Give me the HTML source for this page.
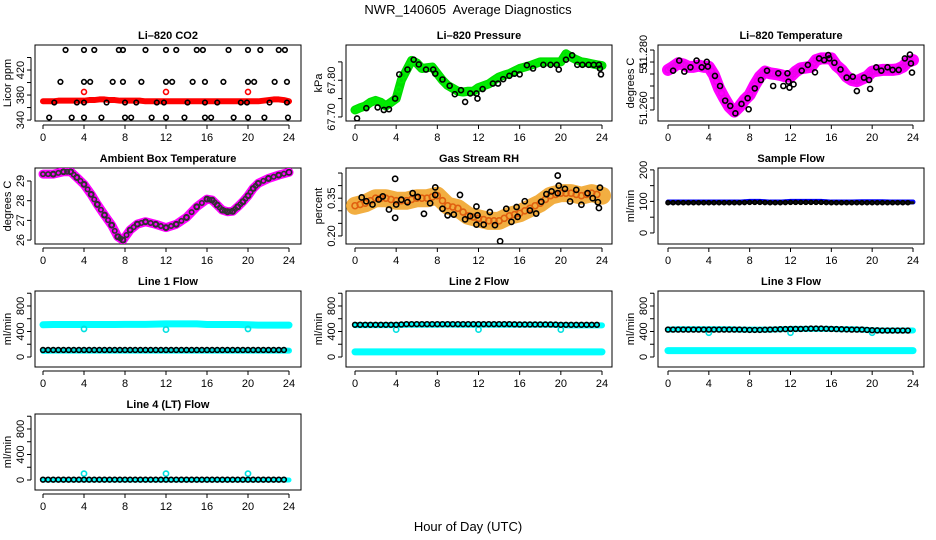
<!DOCTYPE html>
<html><head><meta charset="utf-8"><style>
html,body{margin:0;padding:0;background:#fff;}
svg{display:block;font-family:"Liberation Sans",sans-serif;}
</style></head><body>
<svg id="c" width="936" height="540" viewBox="0 0 936 540" xmlns="http://www.w3.org/2000/svg">
<text x="468" y="14" text-anchor="middle" font-size="13">NWR_140605&#160; Average Diagnostics</text>
<text x="468" y="531" text-anchor="middle" font-size="13">Hour of Day (UTC)</text>
</svg>
<script>
// ---- data ----
const xTicks=[0,4,8,12,16,20,24];
const halfHours=[0,0.5,1,1.5,2,2.5,3,3.5,4,4.5,5,5.5,6,6.5,7,7.5,8,8.5,9,9.5,10,10.5,11,11.5,12,12.5,13,13.5,14,14.5,15,15.5,16,16.5,17,17.5,18,18.5,19,19.5,20,20.5,21,21.5,22,22.5,23,23.5,24];
const hours=[0,1,2,3,4,5,6,7,8,9,10,11,12,13,14,15,16,17,18,19,20,21,22,23,24];
const spikeHours=[4,12,20];
// CO2
const co2Red=[370,370,370,371,371,371,371,371,371,372,372,373,373,372,372,371,371,371,371,371,370,370,370,370,370,370,370,370,370,370,370,370,370,370,370,370,370,370,370,370,370,370,370,371,372,373,373,372,370];
const co2RedSpikes=[385,385,385];
const co2BlackT=[2.2,4,5,7.4,7.8,10,12,13,15,15.6,18.1,20,21.2,23,23.6, 1.7,4,4.6,6.8,7.8,9.6,12,12.6,14.6,15.8,17.6,20,20.6,22.6,23.8, 1.1,3.3,4,6.2,8,9.1,11.1,11.8,14.1,15.8,17,19.3,19.9,22.1,23.8, 0.6,2.8,4,5.7,8,8.6,10.6,12,13.8,15.8,16.4,18.6,20,21.6,23.9];
const co2BlackV=[452,452,452,452,452,452,452,452,452,452,452,452,452,452,452, 401,401,401,401,401,401,401,401,401,401,401,401,401,401,401, 368,368,368,368,368,368,368,368,368,368,368,368,368,368,368, 344,344,344,344,344,344,344,344,344,344,344,344,344,344,344];
// Pressure
const presGreen=[67.719,67.725,67.73,67.74,67.745,67.74,67.73,67.74,67.75,67.80,67.827,67.854,67.847,67.832,67.834,67.836,67.818,67.80,67.786,67.778,67.77,67.768,67.77,67.77,67.78,67.785,67.79,67.80,67.809,67.814,67.818,67.825,67.832,67.836,67.84,67.845,67.85,67.85,67.85,67.85,67.85,67.872,67.863,67.856,67.85,67.848,67.845,67.842,67.84];
const presBlackT=[0.2,1.1,2.2,2.8,3.3,3.9,4.3,5.1,5.7,6.2,6.9,7.6,7.8,8.5,9.2,9.7,10.3,10.7,11.2,11.8,11.9,12.4,13.4,13.9,14.4,15,15.5,16,16.7,17.3,18.3,19,19.6,19.8,20.5,21.1,21.6,22.1,22.7,23.2,23.7,23.8,23.9];
const presBlackV=[67.696,67.724,67.726,67.719,67.721,67.750,67.816,67.829,67.856,67.843,67.829,67.829,67.818,67.802,67.785,67.762,67.773,67.741,67.764,67.764,67.750,67.776,67.791,67.791,67.803,67.812,67.818,67.816,67.841,67.832,67.842,67.842,67.842,67.829,67.856,67.868,67.842,67.842,67.842,67.842,67.842,67.832,67.816];
// Li-820 temperature
const tempMag=[51.2717,51.273,51.2745,51.274,51.273,51.273,51.2735,51.273,51.273,51.2696,51.264,51.260,51.2564,51.2543,51.2564,51.2592,51.2613,51.2654,51.2689,51.271,51.2703,51.270,51.2696,51.269,51.2689,51.271,51.2724,51.2727,51.273,51.2758,51.2765,51.2765,51.2765,51.2735,51.2717,51.2689,51.2675,51.267,51.268,51.2689,51.271,51.2714,51.2717,51.2717,51.2717,51.272,51.273,51.2751,51.2758];
const tempBlackT=[0.5,1.1,1.6,2.2,2.8,3.3,3.8,3.9,4.6,5.1,5.6,6.1,6.6,7.2,7.8,7.9,8.5,9.1,9.7,10.3,10.8,11.3,11.7,11.8,11.9,12.3,13.1,13.7,14.4,14.8,15.3,15.7,15.8,16.3,16.9,17.5,18.1,18.5,19.2,19.7,19.8,20.4,20.9,21.5,22,22.6,23.2,23.7,23.8,23.9];
const tempBlackV=[51.2714,51.2756,51.2710,51.2728,51.2756,51.2728,51.2751,51.2731,51.2692,51.265,51.2589,51.2567,51.2536,51.2575,51.2599,51.2553,51.2640,51.2675,51.2714,51.2650,51.2703,51.2650,51.2703,51.2668,51.2643,51.2657,51.2714,51.2738,51.2707,51.2765,51.2758,51.2779,51.2765,51.2747,51.2719,51.2685,51.2689,51.2629,51.2685,51.2675,51.2638,51.2728,51.2714,51.2728,51.2717,51.2717,51.2765,51.2781,51.2744,51.2706];
// Ambient box temperature
const ambT=[0,1,2,2.7,3.3,4,4.7,5.3,6,6.7,7.3,7.8,8.5,9.2,10,11,12,13,14,15,16,16.5,17,17.5,18,18.5,19,19.5,20,20.5,21,22,23,24];
const ambV=[29.35,29.35,29.47,29.47,29.18,28.83,28.32,27.81,27.27,26.76,26.17,26.0,26.51,26.81,26.93,26.8,26.63,26.8,27.15,27.69,28.08,28.03,27.78,27.52,27.44,27.46,27.69,27.95,28.25,28.62,28.88,29.13,29.3,29.44];
// Gas stream RH
const rhOrange=[0.32,0.33,0.35,0.35,0.34,0.34,0.35,0.35,0.36,0.32,0.31,0.28,0.27,0.26,0.26,0.28,0.29,0.31,0.33,0.36,0.37,0.37,0.36,0.37,0.36];
const rhBlackT=[0.65,1.1,1.7,2.3,2.7,3.3,3.9,3.9,4.0,4.5,5.1,5.6,6.1,6.7,7.3,7.8,7.8,8.5,9.0,9.6,10.2,10.7,11.2,11.8,11.8,11.9,12.5,13.1,13.6,14.1,14.7,15.2,15.7,15.8,16.5,17.0,17.6,18.1,18.6,19.1,19.7,19.7,19.8,20.4,20.9,21.5,22.0,22.6,23.1,23.6,23.7,23.8];
const rhBlackV=[0.353,0.338,0.325,0.345,0.357,0.305,0.427,0.272,0.325,0.344,0.334,0.37,0.355,0.288,0.33,0.363,0.393,0.308,0.282,0.285,0.363,0.266,0.279,0.317,0.245,0.282,0.245,0.295,0.243,0.179,0.308,0.256,0.315,0.276,0.338,0.301,0.289,0.336,0.366,0.377,0.37,0.44,0.40,0.387,0.337,0.383,0.324,0.37,0.35,0.334,0.311,0.392];
// Sample flow
const sampleBlue=[98,98,98,98,98,98,98,98,100,100,98,98,100,100,100,100,98,98,98,99,99,99,98,98,98];
const sampleBlack=[96,96,96,96,96,96,96,96,97,97,96,96,97,97,97,97,96,96,96,96,96,96,96,96,96];
// Line flows
const l1CyanHi=[505,510,510,510,510,510,510,510,512,512,512,515,520,520,520,520,510,510,510,510,505,500,500,500,500];
const l1CyanLo=[95,100,100,100,100,100,100,100,100,100,100,100,100,100,100,100,100,100,100,100,100,100,100,100,100];
const l1Black=[110,110,110,110,110,110,110,110,110,110,110,110,110,110,110,110,110,110,110,110,110,110,110,110,110];
const l1Spikes=[440,430,440];
const l2CyanHi=[500,500,500,500,500,505,505,505,505,510,505,505,505,505,505,505,505,505,505,505,500,495,495,495,495];
const l2CyanLo=[80,80,80,80,80,80,80,80,80,80,80,80,80,80,80,80,80,80,80,80,80,80,80,80,80];
const l2Black=[505,505,505,505,505,515,515,515,515,515,515,515,515,515,515,515,510,510,510,510,505,505,505,505,505];
const l2Spikes=[430,430,430];
const l3CyanHi=[430,435,435,435,435,435,435,430,430,430,430,435,440,440,440,440,440,435,435,430,420,415,415,415,415];
const l3CyanLo=[100,100,100,100,100,100,100,100,100,100,100,100,100,100,100,100,100,100,100,100,100,100,100,100,100];
const l3Black=[430,430,430,430,430,430,430,430,425,425,430,435,440,440,445,445,440,435,430,430,420,415,415,415,415];
const l3Spikes=[380,380,380];
const l4Cyan=[0,0,0,0,0,0,0,0,0,0,0,0,0,0,0,0,0,0,0,0,0,0,0,0,0];
const l4Black=[5,5,5,5,5,5,5,5,5,5,5,5,5,5,5,5,5,5,5,5,5,5,5,5,5];
const l4Spikes=[100,100,100];

// ---- layout ----
const svg=document.getElementById('c');
const NS='http://www.w3.org/2000/svg';
const colL=[35,346,658], colR=[301,612,924], colX0=[43,355,668], colX24=[289,602,913];
const rowT=[45,168,291,414], rowB=[121,244,367,490];
function el(tag,attrs,parent){const e=document.createElementNS(NS,tag);for(const k in attrs)e.setAttribute(k,attrs[k]);(parent||svg).appendChild(e);return e;}
function panel(col,row,name,title,ylab,ymin,ymax,yticks,ylabels,ylabelVals){
  const g=el('g',{});
  
  
  const L=colL[col],R=colR[col],T=rowT[row],B=rowB[row];
  const sx=h=>colX0[col]+(colX24[col]-colX0[col])*h/24;
  const sy=v=>B-(v-ymin)/(ymax-ymin)*(B-T);
  const t=el('text',{x:(L+R)/2,y:T-6,'text-anchor':'middle','font-size':'11','font-weight':'bold'},g);t.textContent=title;
  
  
  const box=el('rect',{x:L,y:T,width:R-L,height:B-T,fill:'none',stroke:'#000','stroke-width':1},g);
  
  
  const xa=el('g',{},g);
  
  
  el('line',{x1:sx(0),x2:sx(24),y1:B+4,y2:B+4,stroke:'#000'},xa);
  xTicks.forEach(h=>{el('line',{x1:sx(h),x2:sx(h),y1:B+4,y2:B+8,stroke:'#000'},xa);
    const tx=el('text',{x:sx(h),y:B+20,'text-anchor':'middle','font-size':'11'},xa);tx.textContent=h;});
  const ya=el('g',{},g);
  
  
  const ax=L-4;
  el('line',{x1:ax,x2:ax,y1:sy(yticks[0]),y2:sy(yticks[yticks.length-1]),stroke:'#000'},ya);
  yticks.forEach(v=>el('line',{x1:ax-4,x2:ax,y1:sy(v),y2:sy(v),stroke:'#000'},ya));
  ylabels.forEach((s,i)=>{const y=sy(ylabelVals[i]);const tx=el('text',{x:ax-7,y:y,'text-anchor':'middle','font-size':'11',transform:`rotate(-90 ${ax-7} ${y})`},ya);tx.textContent=s;});
  const yt=el('text',{x:L-24,y:(T+B)/2,'text-anchor':'middle','font-size':'11',transform:`rotate(-90 ${L-24} ${(T+B)/2})`},g);yt.textContent=ylab;
  
  
  const cp='clip'+col+row;
  const cpe=el('clipPath',{id:cp},g);el('rect',{x:L,y:T,width:R-L,height:B-T},cpe);
  const marks=el('g',{'clip-path':`url(#${cp})`},g);
  
  
  return {sx,sy,marks};
}
function band(p,ts,vs,color,w,name,op){
  const pl=el('polyline',{points:ts.map((t,i)=>p.sx(t)+','+p.sy(vs[i])).join(' '),fill:'none',stroke:color,'stroke-width':w,'stroke-linejoin':'round','stroke-linecap':'round','stroke-opacity':op||1},p.marks);
  
  
}
function pts(p,ts,vs,color,r,name){
  ts.forEach((t,i)=>{const c=el('circle',{cx:p.sx(t),cy:p.sy(vs[i]),r:r,fill:'none',stroke:color,'stroke-width':1.6},p.marks);
    
    });
}
function dense(p,ts,vs,color,r,name){
  for(let i=0;i<ts.length-1;i++){for(let k=0;k<2;k++){const f=k/2;const t=ts[i]+(ts[i+1]-ts[i])*f;const v=vs[i]+(vs[i+1]-vs[i])*f;
    const c=el('circle',{cx:p.sx(t),cy:p.sy(v),r:r,fill:'none',stroke:color,'stroke-width':1.6},p.marks);
    
    }}
}
// CO2
let p=panel(0,0,'co2','Li\u2013820 CO2','Licor ppm',340-1.5,460,[340,360,380,400,420,440],['340','380','420'],[340,380,420]);
band(p,halfHours,co2Red,'#ff0000',6,'co2-red-band');
pts(p,spikeHours,co2RedSpikes,'#ff0000',2.5,'co2-red-point');
pts(p,co2BlackT,co2BlackV,'#000',2.3,'co2-black-point');
// Pressure
p=panel(1,0,'pressure','Li\u2013820 Pressure','kPa',67.689,67.896,[67.70,67.75,67.80,67.85],['67.70','67.80'],[67.70,67.80]);
band(p,halfHours,presGreen,'#00dd00',9,'pressure-green-band');
dense(p,halfHours,presGreen,'#00ee00',2.5,'pressure-green-point');
pts(p,presBlackT,presBlackV,'#000',2.5,'pressure-black-point');
// Temperature
p=panel(2,0,'li820-temperature','Li\u2013820 Temperature','degrees C',51.2504,51.2821,[51.255,51.260,51.265,51.270,51.275,51.280],['51.260','51','51.280'],[51.2558,51.2727,51.2793]);
band(p,halfHours,tempMag,'#ff00ff',12,'temperature-magenta-band');
dense(p,halfHours,tempMag,'#ee00ee',2.8,'temperature-magenta-point');
pts(p,tempBlackT,tempBlackV,'#000',2.5,'temperature-black-point');
// Ambient
p=panel(0,1,'ambient','Ambient Box Temperature','degrees C',25.8,29.66,[26,27,28,29],['26','27','28','29'],[26,27,28,29]);
band(p,ambT,ambV,'#ff00ff',9,'ambient-magenta-band');
pts(p,ambT.slice(1),ambV.slice(1),'#222',2.6,'ambient-black-point');
dense(p,ambT,ambV,'#333',2.2,'ambient-black-point');
// RH
p=panel(1,1,'gas-rh','Gas Stream RH','percent',0.168,0.47,[0.20,0.25,0.30,0.35,0.40,0.45],['0.20','0.35'],[0.20,0.35]);
band(p,hours,rhOrange,'#f0a020',18,'rh-orange-band',0.85);
dense(p,hours,rhOrange,'#e06010',3,'rh-orange-point');
pts(p,rhBlackT,rhBlackV,'#000',2.6,'rh-black-point');
// Sample flow
p=panel(2,1,'sample-flow','Sample Flow','ml/min',-35,206,[0,50,100,150,200],['0','100','200'],[0,100,200]);
band(p,hours,sampleBlue,'#0000ff',5,'sample-blue-band');
band(p,hours,sampleBlack,'#111',3,'sample-black-band');
dense(p,hours,sampleBlack,'#000',2,'sample-black-point');
const fT=[0,200,400,600,800,1000], fL=['0','400','800'], fV=[0,400,800];
// Line 1
p=panel(0,2,'line1-flow','Line 1 Flow','ml/min',-157,1035,fT,fL,fV);
band(p,hours,l1CyanHi,'#00ffff',7,'line1-cyan-upper');
band(p,hours,l1CyanLo,'#00ffff',6,'line1-cyan-lower');
pts(p,spikeHours,l1Spikes,'#00e0e0',2.6,'line1-cyan-spike');
band(p,hours,l1Black,'#00dddd',3,'line1-black-band');
dense(p,hours,l1Black,'#000',2.4,'line1-black-point');
// Line 2
p=panel(1,2,'line2-flow','Line 2 Flow','ml/min',-157,1035,fT,fL,fV);
band(p,hours,l2CyanHi,'#00ffff',6,'line2-cyan-upper');
band(p,hours,l2CyanLo,'#00ffff',7,'line2-cyan-lower');
pts(p,spikeHours,l2Spikes,'#00e0e0',2.6,'line2-cyan-spike');
dense(p,hours,l2Black,'#000',2.4,'line2-black-point');
// Line 3
p=panel(2,2,'line3-flow','Line 3 Flow','ml/min',-157,1035,fT,fL,fV);
band(p,hours,l3CyanHi,'#00ffff',6,'line3-cyan-upper');
band(p,hours,l3CyanLo,'#00ffff',7,'line3-cyan-lower');
pts(p,spikeHours,l3Spikes,'#00e0e0',2.6,'line3-cyan-spike');
dense(p,hours,l3Black,'#000',2.4,'line3-black-point');
// Line 4
p=panel(0,3,'line4-flow','Line 4 (LT) Flow','ml/min',-157,1035,fT,fL,fV);
band(p,hours,l4Cyan,'#00ffff',5,'line4-cyan-band');
pts(p,spikeHours,l4Spikes,'#00e0e0',2.6,'line4-cyan-spike');
dense(p,hours,l4Black,'#000',2.4,'line4-black-point');
</script>
</body></html>
